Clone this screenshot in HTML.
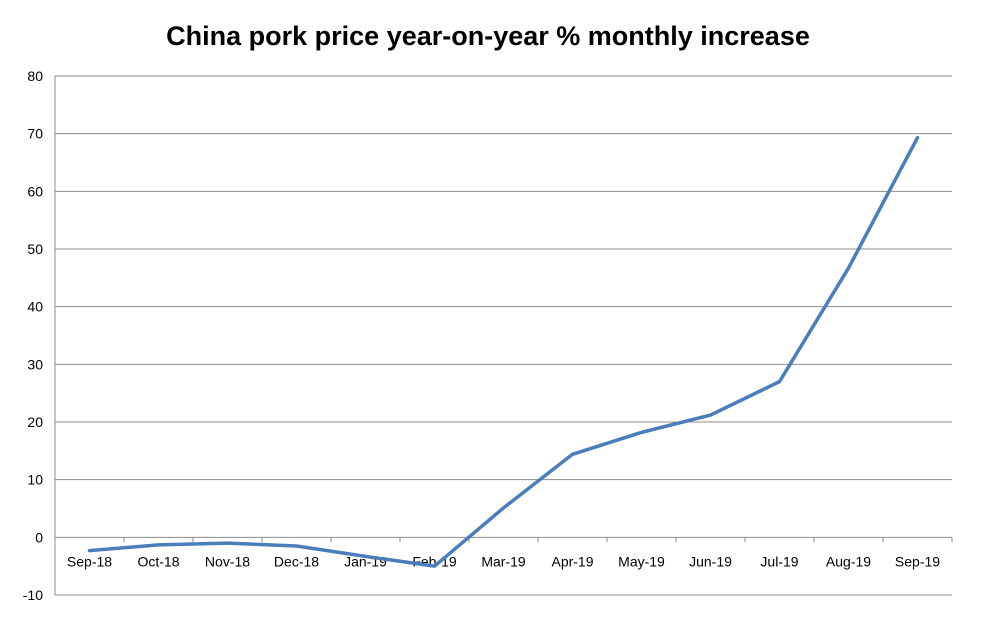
<!DOCTYPE html>
<html><head><meta charset="utf-8"><style>
body{margin:0;background:#fff;}
svg text{font-family:"Liberation Sans",sans-serif;}
</style></head><body>
<svg width="1000" height="623" viewBox="0 0 1000 623">
<rect width="1000" height="623" fill="#fff"/>
<text x="488" y="45" text-anchor="middle" font-size="27" font-weight="bold" fill="#000">China pork price year-on-year % monthly increase</text>
<g id="grid"></g><g id="axes"></g><g id="series"></g>
</svg>
<script>
const categories=["Sep-18","Oct-18","Nov-18","Dec-18","Jan-19","Feb-19","Mar-19","Apr-19","May-19","Jun-19","Jul-19","Aug-19","Sep-19"];
const values=[-2.3,-1.3,-1.0,-1.5,-3.3,-5.0,5.1,14.4,18.2,21.2,27.0,46.7,69.3];
const yTicks=[-10,0,10,20,30,40,50,60,70,80];
const NS="http://www.w3.org/2000/svg";
const L=55,R=952,T=76,B=595,yMin=-10,yMax=80;
const y=v=>B-(v-yMin)/(yMax-yMin)*(B-T);
const bw=(R-L)/categories.length;
const x=i=>L+bw*(i+0.5);
function mk(t,a,p){const e=document.createElementNS(NS,t);for(const k in a)e.setAttribute(k,a[k]);p.appendChild(e);return e;}
const grid=document.getElementById('grid'),axes=document.getElementById('axes'),ser=document.getElementById('series');
yTicks.forEach(v=>{
 const g=mk('line',{x1:L,x2:R,y1:y(v),y2:y(v),stroke:'#8c8c8c','stroke-width':1},grid);
 
 
 const t=mk('text',{x:L-12,y:y(v)+5,'text-anchor':'end','font-size':14,fill:'#000'},axes);
 t.textContent=v;
 
 
});
const ya=mk('line',{x1:L,x2:L,y1:T,y2:B,stroke:'#8c8c8c','stroke-width':1},axes);


for(let i=0;i<=categories.length;i++){
 const tk=mk('line',{x1:L+bw*i,x2:L+bw*i,y1:y(0),y2:y(0)+5,stroke:'#8c8c8c'},axes);
 
 
}
categories.forEach((c,i)=>{
 const t=mk('text',{x:x(i),y:y(0)+29,'text-anchor':'middle','font-size':14,fill:'#000'},axes);
 t.textContent=c;
 
 
});
const pts=values.map((v,i)=>x(i)+','+y(v)).join(' ');
const line=mk('polyline',{points:pts,fill:'none',stroke:'#4a7ebb','stroke-width':3.5,'stroke-linejoin':'round','stroke-linecap':'round'},ser);


</script>
</body></html>
